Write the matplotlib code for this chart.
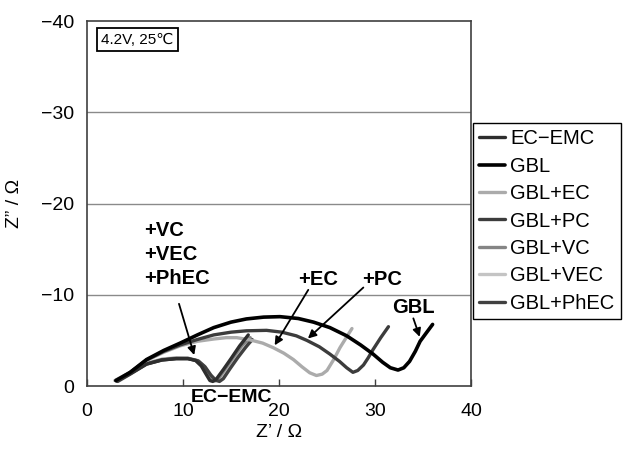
import matplotlib
matplotlib.use("Agg")
import matplotlib.pyplot as plt

plt.rcParams['font.family'] = ['Liberation Sans', 'DejaVu Sans']

# Nyquist plots, Z' (ohm) vs Z'' (ohm), 4.2 V, 25 C
ec_emc_x = [3.1, 4.5, 6.2, 7.8, 9.3, 10.5, 11.3, 11.9, 12.4, 12.8, 13.1, 13.5, 14.2, 15.0, 15.9, 16.8]
ec_emc_z = [-0.55, -1.35, -2.4, -2.85, -3.0, -3.0, -2.8, -2.2, -1.3, -0.6, -0.5, -0.8, -1.8, -3.0, -4.4, -5.6]

gbl_x = [3.0, 4.5, 6.2, 8.0, 9.7, 11.5, 13.2, 15.0, 16.6, 18.4, 20.1, 22.0, 23.6, 25.3, 27.05,
         28.5, 29.8, 30.8, 31.6, 32.4, 33.0, 33.6, 34.2, 34.7, 35.4, 36.0]
gbl_z = [-0.6, -1.5, -2.9, -3.9, -4.7, -5.6, -6.4, -7.0, -7.35, -7.55, -7.6, -7.4, -7.0, -6.4, -5.5,
         -4.5, -3.5, -2.6, -2.0, -1.75, -2.0, -2.7, -3.8, -4.9, -5.9, -6.75]

gbl_ec_x = [2.9, 4.5, 6.2, 8.0, 9.7, 11.5, 13.2, 14.5, 15.6, 17.0, 18.3, 19.4, 20.5, 21.5, 22.4,
            23.2, 23.9, 24.5, 25.0, 25.7, 26.35, 27.0, 27.6]
gbl_ec_z = [-0.6, -1.5, -2.8, -3.7, -4.4, -4.9, -5.15, -5.3, -5.3, -5.05, -4.7, -4.2, -3.6, -2.9, -2.1,
            -1.45, -1.15, -1.3, -1.7, -2.9, -4.2, -5.3, -6.3]

gbl_pc_x = [3.1, 4.5, 6.2, 8.0, 9.7, 11.5, 13.2, 15.0, 16.6, 18.7, 20.3, 21.8, 22.9, 24.2, 25.3,
            26.3, 27.05, 27.7, 28.2, 28.8, 29.3, 29.8, 30.6, 31.4]
gbl_pc_z = [-0.55, -1.5, -2.85, -3.8, -4.5, -5.1, -5.6, -5.9, -6.05, -6.1, -5.9, -5.5, -5.0, -4.3, -3.5,
            -2.7, -2.0, -1.5, -1.7, -2.3, -3.1, -4.0, -5.3, -6.5]

gbl_vc_x = [3.0, 4.5, 6.2, 7.8, 9.3, 10.5, 11.4, 12.1, 12.6, 13.0, 13.3, 13.7, 14.4, 15.2, 16.1, 17.0]
gbl_vc_z = [-0.6, -1.4, -2.45, -2.9, -3.05, -3.05, -2.8, -2.2, -1.3, -0.7, -0.55, -0.85, -1.9, -3.1, -4.4, -5.3]

gbl_vec_x = [3.0, 4.5, 6.2, 7.8, 9.3, 10.5, 11.5, 12.2, 12.8, 13.2, 13.5, 13.9, 14.6, 15.4, 16.3, 17.2]
gbl_vec_z = [-0.6, -1.4, -2.5, -2.95, -3.1, -3.05, -2.8, -2.2, -1.3, -0.7, -0.55, -0.85, -1.9, -3.0, -4.1, -5.0]

gbl_phec_x = [3.2, 4.5, 6.2, 7.8, 9.3, 10.5, 11.6, 12.3, 12.9, 13.4, 13.8, 14.2, 14.9, 15.7, 16.5, 17.2]
gbl_phec_z = [-0.5, -1.3, -2.4, -2.85, -3.0, -3.0, -2.75, -2.1, -1.2, -0.65, -0.5, -0.8, -1.9, -3.1, -4.2, -5.1]

names = ["EC\u2212EMC", "GBL", "GBL+EC", "GBL+PC", "GBL+VC", "GBL+VEC", "GBL+PhEC"]
xs = [ec_emc_x, gbl_x, gbl_ec_x, gbl_pc_x, gbl_vc_x, gbl_vec_x, gbl_phec_x]
zs = [ec_emc_z, gbl_z, gbl_ec_z, gbl_pc_z, gbl_vc_z, gbl_vec_z, gbl_phec_z]
colors = ["#2e2e2e", "#000000", "#ababab", "#3c3c3c", "#858585", "#c4c4c4", "#404040"]
widths = [2.4, 2.6, 2.4, 2.4, 2.4, 2.4, 2.4]
order = [7, 8, 6, 7, 4, 3, 5]

fig = plt.figure(figsize=(6.25, 4.51), dpi=100)
ax = fig.add_axes([0.1392, 0.1441, 0.6144, 0.8093])

lines = []
for x, z, n, c, w, o in zip(xs, zs, names, colors, widths, order):
    l, = ax.plot(x, z, color=c, lw=w, label=n, zorder=o,
                 solid_capstyle='round', solid_joinstyle='round')
    lines.append(l)

ax.set_xlim(0, 40)
ax.set_ylim(0, -40)
ax.set_xticks([0, 10, 20, 30, 40])
ax.set_yticks([0, -10, -20, -30, -40])
ax.set_yticklabels(["0", "\u221210", "\u221220", "\u221230", "\u221240"])
for yv in [-10, -20, -30]:
    ax.axhline(yv, color="#8a8a8a", lw=1.0, zorder=1)

for s in ax.spines.values():
    s.set_color("#404040")
    s.set_linewidth(1.2)
ax.tick_params(axis='x', direction='in', length=5, width=1, colors="#404040",
               labelcolor="black", labelsize=14, pad=12)
ax.tick_params(axis='y', direction='in', length=0, labelsize=14, pad=9)

ax.set_xlabel("Z\u2019 / \u03a9", fontsize=14, labelpad=3)
ax.set_ylabel("Z\u201d / \u03a9", fontsize=14, labelpad=13)

ax.text(5.26, -37.97, "4.2V, 25\u2103", fontsize=11, ha='center', va='center',
        bbox=dict(boxstyle='square,pad=0.3', fc='white', ec='black', lw=1.3))

# labels with arrows pointing at the curves
bold = dict(fontsize=14.5, fontweight='bold')
arrow = dict(arrowstyle='-|>', color='black', lw=1.3, mutation_scale=12)
ax.text(6.0, -14.4, "+VC\n+VEC\n+PhEC", ha='left', va='center', linespacing=1.35, **bold)
ax.annotate("", xy=(11.25, -3.1), xytext=(9.5, -9.3), arrowprops=arrow, zorder=9)
ax.text(24.1, -11.7, "+EC", ha='center', va='center', **bold)
ax.annotate("", xy=(19.4, -4.2), xytext=(23.2, -10.8), arrowprops=arrow, zorder=9)
ax.text(30.7, -11.7, "+PC", ha='center', va='center', **bold)
ax.annotate("", xy=(22.8, -5.0), xytext=(29.0, -11.0), arrowprops=arrow, zorder=9)
ax.text(34.0, -8.6, "GBL", ha='center', va='center', **bold)
ax.annotate("", xy=(34.75, -5.1), xytext=(33.9, -7.7), arrowprops=arrow, zorder=9)
ax.text(15.0, 1.25, "EC\u2212EMC", ha='center', va='center', clip_on=False, zorder=10,
        fontsize=14, fontweight='bold')

fig.legend(handles=lines, loc='upper left', bbox_to_anchor=(0.757, 0.727),
           borderaxespad=0, fontsize=14.5, frameon=True, fancybox=False,
           edgecolor='black', framealpha=1, handlelength=1.3, handletextpad=0.25,
           labelspacing=0.42, borderpad=0.3)

fig.savefig("out.png", dpi=100)
